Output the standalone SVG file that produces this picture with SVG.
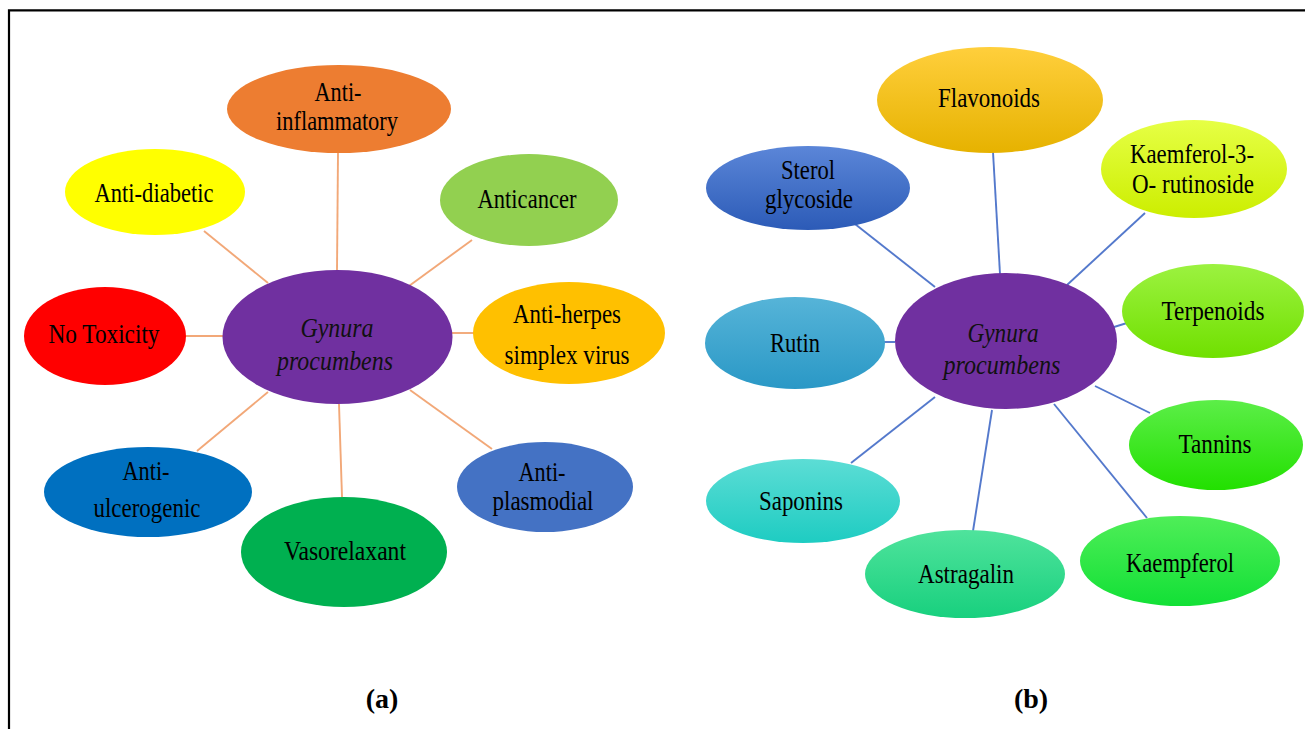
<svg xmlns="http://www.w3.org/2000/svg" width="1305" height="729" viewBox="0 0 1305 729">
<style>
.t{font-family:"Liberation Serif","Times New Roman",serif;font-size:28px;fill:#000;text-anchor:middle}
.c{font-style:italic;fill:#111}
.lab{font-family:"Liberation Serif","Times New Roman",serif;font-size:28px;font-weight:bold;fill:#000;text-anchor:middle}
.ca line{stroke:#F2A878;stroke-width:1.9}
.cb line{stroke:#5479CC;stroke-width:1.9}
</style>
<defs>
<linearGradient id="gFla" x1="0" y1="0" x2="0" y2="1"><stop offset="0" stop-color="#FFCF3C"/><stop offset="1" stop-color="#E6B200"/></linearGradient>
<linearGradient id="gSte" x1="0" y1="0" x2="0" y2="1"><stop offset="0" stop-color="#5B86D8"/><stop offset="1" stop-color="#2C5BB7"/></linearGradient>
<linearGradient id="gKr" x1="0" y1="0" x2="0" y2="1"><stop offset="0" stop-color="#E6FF45"/><stop offset="1" stop-color="#CCEE00"/></linearGradient>
<linearGradient id="gTer" x1="0" y1="0" x2="0" y2="1"><stop offset="0" stop-color="#9CF240"/><stop offset="1" stop-color="#70E000"/></linearGradient>
<linearGradient id="gRut" x1="0" y1="0" x2="0" y2="1"><stop offset="0" stop-color="#56B4D8"/><stop offset="1" stop-color="#2A98C6"/></linearGradient>
<linearGradient id="gTan" x1="0" y1="0" x2="0" y2="1"><stop offset="0" stop-color="#5CEE48"/><stop offset="1" stop-color="#22E000"/></linearGradient>
<linearGradient id="gSap" x1="0" y1="0" x2="0" y2="1"><stop offset="0" stop-color="#5CDDD5"/><stop offset="1" stop-color="#1ECCC2"/></linearGradient>
<linearGradient id="gAst" x1="0" y1="0" x2="0" y2="1"><stop offset="0" stop-color="#4FE39C"/><stop offset="1" stop-color="#18D07E"/></linearGradient>
<linearGradient id="gKae" x1="0" y1="0" x2="0" y2="1"><stop offset="0" stop-color="#4FEE58"/><stop offset="1" stop-color="#12E036"/></linearGradient>
</defs>
<rect width="1305" height="729" fill="#fff"/>
<g id="frame" stroke="#000" stroke-width="2.2" fill="none">
<path d="M9,729 V10.3 H1305"/>
</g>

<g id="connectors-a" class="ca">
<line x1="338" y1="153" x2="337" y2="271"/>
<line x1="204" y1="231" x2="268" y2="283"/>
<line x1="472" y1="240" x2="409" y2="286"/>
<line x1="186" y1="336" x2="223" y2="336"/>
<line x1="451" y1="333" x2="474" y2="333"/>
<line x1="268" y1="392" x2="197" y2="451"/>
<line x1="339" y1="404" x2="342" y2="497"/>
<line x1="410" y1="390" x2="492" y2="449"/>
</g>

<g id="connectors-b" class="cb">
<line x1="993" y1="152" x2="1000" y2="274"/>
<line x1="855" y1="224" x2="935" y2="287"/>
<line x1="1145" y1="213" x2="1067" y2="285"/>
<line x1="1114" y1="327" x2="1127" y2="323"/>
<line x1="884" y1="342" x2="895" y2="342"/>
<line x1="1095" y1="386" x2="1150" y2="413"/>
<line x1="935" y1="397" x2="851" y2="463"/>
<line x1="992" y1="410" x2="973" y2="531"/>
<line x1="1054" y1="404" x2="1147" y2="518"/>
</g>

<g id="a-center">
<ellipse cx="337.5" cy="337" rx="115" ry="67" fill="#7030A0"/>
<text class="t c" x="337" y="337" textLength="73" lengthAdjust="spacingAndGlyphs">Gynura</text>
<text class="t c" x="335" y="370" textLength="116" lengthAdjust="spacingAndGlyphs">procumbens</text>
</g>
<g id="a-antiinflammatory">
<ellipse cx="339" cy="109" rx="112" ry="44" fill="#ED7D31"/>
<text class="t" x="338" y="101" textLength="47" lengthAdjust="spacingAndGlyphs">Anti-</text>
<text class="t" x="337" y="130" textLength="122" lengthAdjust="spacingAndGlyphs">inflammatory</text>
</g>
<g id="a-antidiabetic">
<ellipse cx="155" cy="192" rx="90" ry="43" fill="#FFFF00"/>
<text class="t" x="154" y="202" textLength="119" lengthAdjust="spacingAndGlyphs">Anti-diabetic</text>
</g>
<g id="a-anticancer">
<ellipse cx="529" cy="200" rx="89" ry="46" fill="#92D050"/>
<text class="t" x="527" y="208" textLength="99" lengthAdjust="spacingAndGlyphs">Anticancer</text>
</g>
<g id="a-notoxicity">
<ellipse cx="105" cy="336" rx="81" ry="49" fill="#FF0000"/>
<text class="t" x="104" y="343" textLength="111" lengthAdjust="spacingAndGlyphs">No Toxicity</text>
</g>
<g id="a-antiherpes">
<ellipse cx="569" cy="333" rx="96" ry="51" fill="#FFC000"/>
<text class="t" x="567" y="323" textLength="108" lengthAdjust="spacingAndGlyphs">Anti-herpes</text>
<text class="t" x="567" y="364" textLength="125" lengthAdjust="spacingAndGlyphs">simplex virus</text>
</g>
<g id="a-antiulcerogenic">
<ellipse cx="148" cy="492" rx="104" ry="45" fill="#0070C0"/>
<text class="t" x="146" y="480" textLength="47" lengthAdjust="spacingAndGlyphs">Anti-</text>
<text class="t" x="147" y="517" textLength="107" lengthAdjust="spacingAndGlyphs">ulcerogenic</text>
</g>
<g id="a-vasorelaxant">
<ellipse cx="344" cy="552" rx="103" ry="55" fill="#00B050"/>
<text class="t" x="345" y="560" textLength="122" lengthAdjust="spacingAndGlyphs">Vasorelaxant</text>
</g>
<g id="a-antiplasmodial">
<ellipse cx="545" cy="487" rx="88" ry="45" fill="#4472C4"/>
<text class="t" x="542" y="481" textLength="47" lengthAdjust="spacingAndGlyphs">Anti-</text>
<text class="t" x="543" y="510" textLength="101" lengthAdjust="spacingAndGlyphs">plasmodial</text>
</g>

<g id="b-center">
<ellipse cx="1006" cy="341" rx="111" ry="68" fill="#7030A0"/>
<text class="t c" x="1003" y="342" textLength="71" lengthAdjust="spacingAndGlyphs">Gynura</text>
<text class="t c" x="1002" y="374" textLength="117" lengthAdjust="spacingAndGlyphs">procumbens</text>
</g>
<g id="b-flavonoids">
<ellipse cx="990" cy="100" rx="113" ry="53" fill="url(#gFla)"/>
<text class="t" x="989" y="107" textLength="102" lengthAdjust="spacingAndGlyphs">Flavonoids</text>
</g>
<g id="b-sterol">
<ellipse cx="808" cy="188" rx="102" ry="42" fill="url(#gSte)"/>
<text class="t" x="808" y="179" textLength="54" lengthAdjust="spacingAndGlyphs">Sterol</text>
<text class="t" x="809" y="208" textLength="88" lengthAdjust="spacingAndGlyphs">glycoside</text>
</g>
<g id="b-kaemferol-rutinoside">
<ellipse cx="1194" cy="169" rx="93" ry="49" fill="url(#gKr)"/>
<text class="t" x="1192" y="163" textLength="124" lengthAdjust="spacingAndGlyphs">Kaemferol-3-</text>
<text class="t" x="1193" y="193" textLength="122" lengthAdjust="spacingAndGlyphs">O- rutinoside</text>
</g>
<g id="b-terpenoids">
<ellipse cx="1213" cy="311" rx="91" ry="47" fill="url(#gTer)"/>
<text class="t" x="1213" y="320" textLength="103" lengthAdjust="spacingAndGlyphs">Terpenoids</text>
</g>
<g id="b-rutin">
<ellipse cx="795" cy="343" rx="90" ry="46" fill="url(#gRut)"/>
<text class="t" x="795" y="352" textLength="50" lengthAdjust="spacingAndGlyphs">Rutin</text>
</g>
<g id="b-tannins">
<ellipse cx="1216" cy="445" rx="87" ry="45" fill="url(#gTan)"/>
<text class="t" x="1215" y="453" textLength="73" lengthAdjust="spacingAndGlyphs">Tannins</text>
</g>
<g id="b-saponins">
<ellipse cx="803" cy="501" rx="97" ry="42" fill="url(#gSap)"/>
<text class="t" x="801" y="510" textLength="84" lengthAdjust="spacingAndGlyphs">Saponins</text>
</g>
<g id="b-astragalin">
<ellipse cx="965" cy="574" rx="100" ry="44" fill="url(#gAst)"/>
<text class="t" x="966" y="583" textLength="96" lengthAdjust="spacingAndGlyphs">Astragalin</text>
</g>
<g id="b-kaempferol">
<ellipse cx="1180" cy="561" rx="100" ry="45" fill="url(#gKae)"/>
<text class="t" x="1180" y="572" textLength="108" lengthAdjust="spacingAndGlyphs">Kaempferol</text>
</g>

<g id="labels">
<text class="lab" x="382" y="708">(a)</text>
<text class="lab" x="1031" y="708">(b)</text>
</g>
</svg>
